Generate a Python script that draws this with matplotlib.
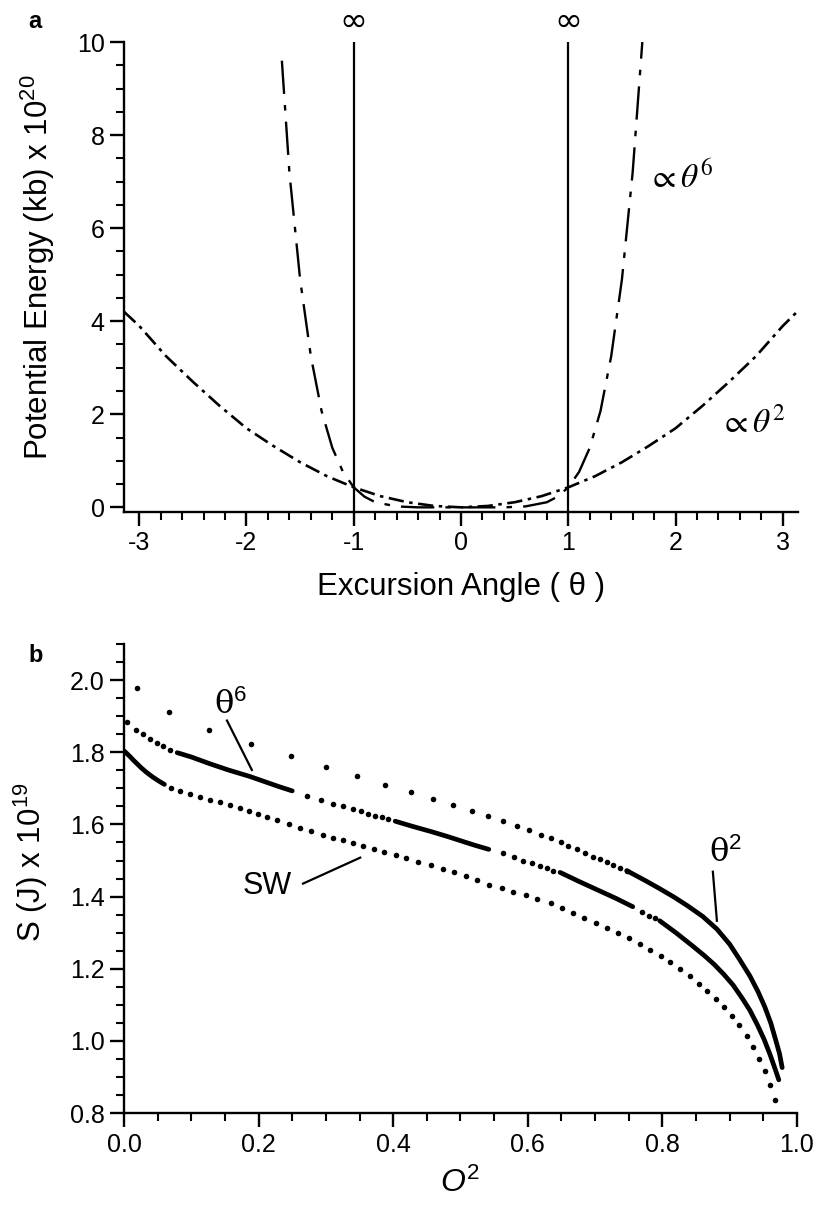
import numpy as np
import matplotlib
matplotlib.use("Agg")
import matplotlib.pyplot as plt
from matplotlib.ticker import MultipleLocator

plt.rcParams['font.family'] = ['Liberation Sans', 'DejaVu Sans']
plt.rcParams['axes.unicode_minus'] = False
plt.rcParams['lines.scale_dashes'] = False
plt.rcParams['mathtext.fontset'] = 'custom'
plt.rcParams['mathtext.rm'] = 'Liberation Sans'
plt.rcParams['mathtext.it'] = 'Liberation Sans:italic'

# ---- panel a: potential energy vs excursion angle ----
theta_sq = [-3.14, -3.0, -2.75, -2.5, -2.25, -2.0, -1.75, -1.5, -1.25, -1.0, -0.75, -0.5, -0.25, 0.0,
            0.25, 0.5, 0.75, 1.0, 1.25, 1.5, 1.75, 2.0, 2.25, 2.5, 2.75, 3.0, 3.14]
u_sq = [4.2, 3.9, 3.25, 2.7, 2.18, 1.7, 1.32, 0.97, 0.67, 0.43, 0.24, 0.11, 0.03, 0.0,
        0.03, 0.11, 0.24, 0.43, 0.67, 0.97, 1.32, 1.7, 2.18, 2.7, 3.25, 3.9, 4.22]

theta_six = [-1.67, -1.6, -1.5, -1.4, -1.3, -1.2, -1.1, -1.0, -0.9, -0.8, -0.6, -0.4, 0.0,
             0.4, 0.6, 0.8, 0.9, 1.0, 1.1, 1.2, 1.3, 1.4, 1.5, 1.6, 1.69]
u_six = [9.6, 7.2, 4.9, 3.25, 2.07, 1.28, 0.76, 0.43, 0.23, 0.11, 0.02, 0.0, 0.0,
         0.0, 0.02, 0.11, 0.23, 0.43, 0.76, 1.28, 2.07, 3.25, 4.9, 7.2, 10.0]

wall_pos = [-1.0, 1.0]

# ---- panel b: S vs O^2 ----
# theta^2 curve: sparse dots then dense (drawn solid)
sq_dot_x = [0.019, 0.067, 0.126, 0.189, 0.248, 0.300, 0.346, 0.388, 0.426, 0.459, 0.489, 0.517,
            0.541, 0.563, 0.584, 0.602, 0.620, 0.634, 0.649, 0.660, 0.673, 0.685, 0.697, 0.707,
            0.718, 0.727, 0.737, 0.747]
sq_dot_y = [1.977, 1.913, 1.863, 1.824, 1.790, 1.760, 1.734, 1.709, 1.690, 1.670, 1.654, 1.637,
            1.623, 1.609, 1.595, 1.584, 1.571, 1.562, 1.551, 1.541, 1.531, 1.522, 1.511, 1.503,
            1.496, 1.487, 1.480, 1.472]
sq_line_x = [0.747, 0.755, 0.775, 0.796, 0.817, 0.837, 0.860, 0.881, 0.900, 0.915, 0.930, 0.942,
             0.952, 0.961, 0.968, 0.974, 0.978]
sq_line_y = [1.472, 1.464, 1.444, 1.422, 1.399, 1.375, 1.345, 1.310, 1.268, 1.225, 1.180, 1.137,
             1.095, 1.050, 1.005, 0.965, 0.926]

# theta^6 curve: alternating dotted and dense runs
six_dot_x = [0.005, 0.018, 0.028, 0.039, 0.049, 0.058, 0.068,
             0.272, 0.293, 0.311, 0.325, 0.340, 0.352, 0.363, 0.373, 0.383, 0.392,
             0.563, 0.579, 0.593, 0.606, 0.618, 0.629, 0.637,
             0.770, 0.780, 0.789]
six_dot_y = [1.885, 1.863, 1.852, 1.838, 1.826, 1.818, 1.807,
             1.679, 1.667, 1.656, 1.651, 1.642, 1.637, 1.628, 1.623, 1.620, 1.615,
             1.520, 1.509, 1.500, 1.492, 1.486, 1.478, 1.472,
             1.358, 1.347, 1.341]
six_runs_x = [[0.079, 0.100, 0.128, 0.155, 0.187, 0.210, 0.230, 0.250],
              [0.403, 0.430, 0.455, 0.480, 0.500, 0.520, 0.542],
              [0.648, 0.675, 0.703, 0.730, 0.756],
              [0.796, 0.820, 0.845, 0.862, 0.877, 0.891, 0.905, 0.918, 0.930, 0.941, 0.951,
               0.960, 0.967, 0.973]]
six_runs_y = [[1.799, 1.787, 1.768, 1.751, 1.733, 1.718, 1.705, 1.693],
              [1.609, 1.594, 1.581, 1.567, 1.555, 1.543, 1.531],
              [1.467, 1.443, 1.419, 1.396, 1.372],
              [1.333, 1.300, 1.263, 1.237, 1.212, 1.185, 1.155, 1.120, 1.085, 1.045, 1.005,
               0.962, 0.925, 0.892]]

# SW curve: short solid start then evenly spaced dots
sw_line_x = [0.0, 0.004, 0.009, 0.014, 0.019, 0.025, 0.033, 0.043, 0.052, 0.060]
sw_line_y = [1.804, 1.797, 1.788, 1.778, 1.769, 1.758, 1.745, 1.731, 1.720, 1.711]
sw_dot_x = [0.070, 0.083, 0.098, 0.113, 0.128, 0.143, 0.158, 0.172, 0.186, 0.199, 0.212, 0.228,
            0.245, 0.262, 0.278, 0.295, 0.311, 0.325, 0.340, 0.355, 0.371, 0.387, 0.404, 0.419,
            0.437, 0.456, 0.474, 0.490, 0.508, 0.525, 0.542, 0.561, 0.578, 0.597, 0.614, 0.634,
            0.651, 0.667, 0.684, 0.701, 0.717, 0.734, 0.750, 0.767, 0.782, 0.798, 0.811, 0.826,
            0.841, 0.854, 0.866, 0.879, 0.892, 0.903, 0.914, 0.925, 0.935, 0.944, 0.952, 0.960,
            0.967]
sw_dot_y = [1.701, 1.693, 1.684, 1.677, 1.668, 1.661, 1.653, 1.645, 1.638, 1.630, 1.621, 1.612,
            1.601, 1.590, 1.581, 1.572, 1.563, 1.556, 1.548, 1.540, 1.532, 1.524, 1.515, 1.506,
            1.497, 1.487, 1.477, 1.467, 1.456, 1.445, 1.433, 1.424, 1.414, 1.404, 1.394, 1.381,
            1.369, 1.354, 1.341, 1.327, 1.313, 1.299, 1.284, 1.269, 1.252, 1.235, 1.218, 1.199,
            1.179, 1.159, 1.138, 1.115, 1.093, 1.068, 1.043, 1.014, 0.984, 0.950, 0.917, 0.878,
            0.836]


def style_axes(ax):
    for s in ['top', 'right']:
        ax.spines[s].set_visible(False)
    for s in ['left', 'bottom']:
        ax.spines[s].set_linewidth(1.7)
    ax.tick_params(which='major', direction='out', length=10, width=1.7, labelsize=18, pad=4)
    ax.tick_params(which='minor', direction='out', length=5.5, width=1.5)


fig = plt.figure(figsize=(8.18, 12.05), dpi=100)

# panel a
ax1 = fig.add_axes([0.1516, 0.5751, 0.824, 0.390])
ax1.plot(theta_sq, u_sq, color='black', lw=1.9, linestyle=(0, (11, 4, 2.5, 4)))
ax1.plot(theta_six, u_six, color='black', lw=1.7, linestyle=(0, (24, 8, 4, 8)))
for w in wall_pos:
    ax1.plot([w, w], [-0.1, 10], color='black', lw=1.6)
    ax1.text(w, 10.1, '∞', ha='center', va='bottom', fontsize=24, family=['DejaVu Sans'])
ax1.text(1.74, 7.1, r'$\propto\theta^{6}$', fontsize=24, ha='left', va='center',
         math_fontfamily='stix')
ax1.text(2.41, 1.82, r'$\propto\theta^{2}$', fontsize=24, ha='left', va='center',
         math_fontfamily='stix')
ax1.set_xlim(-np.pi, np.pi)
ax1.set_ylim(-0.1, 10)
ax1.xaxis.set_major_locator(MultipleLocator(1))
ax1.xaxis.set_minor_locator(MultipleLocator(0.2))
ax1.yaxis.set_major_locator(MultipleLocator(2))
ax1.yaxis.set_minor_locator(MultipleLocator(0.5))
style_axes(ax1)
ax1.set_xlabel('Excursion Angle ( θ )', fontsize=22.5, labelpad=12)
ax1.set_ylabel('Potential Energy (kb) x 10$^{20}$', fontsize=22.5)
ax1.yaxis.set_label_coords(-0.1, 0.52)
fig.text(0.035, 0.982, 'a', fontsize=17, fontweight='bold', ha='left', va='center')

# panel b
ax2 = fig.add_axes([0.1516, 0.0763, 0.8227, 0.3892])
ax2.plot(sq_dot_x, sq_dot_y, 'o', color='black', ms=4, mec='none')
ax2.plot(sq_line_x, sq_line_y, color='black', lw=3.4, solid_capstyle='round')
ax2.plot(six_dot_x, six_dot_y, 'o', color='black', ms=4, mec='none')
for rx, ry in zip(six_runs_x, six_runs_y):
    ax2.plot(rx, ry, color='black', lw=3.4, solid_capstyle='round')
ax2.plot(sw_line_x, sw_line_y, color='black', lw=3.4, solid_capstyle='round')
ax2.plot(sw_dot_x, sw_dot_y, 'o', color='black', ms=4, mec='none')

# curve labels with leader lines
ax2.text(0.158, 1.93, 'θ$^{6}$', fontsize=23, ha='center', va='center', family=['DejaVu Serif'])
ax2.plot([0.153, 0.190], [1.888, 1.751], color='black', lw=1.6)
ax2.text(0.893, 1.52, 'θ$^{2}$', fontsize=23, ha='center', va='center', family=['DejaVu Serif'])
ax2.plot([0.875, 0.881], [1.469, 1.333], color='black', lw=1.6)
ax2.text(0.212, 1.43, 'SW', fontsize=22, ha='center', va='center')
ax2.plot([0.266, 0.351], [1.436, 1.508], color='black', lw=1.6)

ax2.set_xlim(0, 1.0)
ax2.set_ylim(0.8, 2.1)
ax2.xaxis.set_major_locator(MultipleLocator(0.2))
ax2.xaxis.set_minor_locator(MultipleLocator(0.05))
ax2.yaxis.set_major_locator(MultipleLocator(0.2))
ax2.yaxis.set_minor_locator(MultipleLocator(0.05))
ax2.xaxis.set_major_formatter(plt.FormatStrFormatter('%.1f'))
ax2.yaxis.set_major_formatter(plt.FormatStrFormatter('%.1f'))
style_axes(ax2)
ax2.set_xlabel('$\\mathit{O}^{2}$', fontsize=23, labelpad=8)
ax2.set_ylabel('S (J) x 10$^{19}$', fontsize=22.5)
ax2.yaxis.set_label_coords(-0.11, 0.535)
fig.text(0.035, 0.456, 'b', fontsize=17, fontweight='bold', ha='left', va='center')

fig.savefig('out.png', dpi=100)
